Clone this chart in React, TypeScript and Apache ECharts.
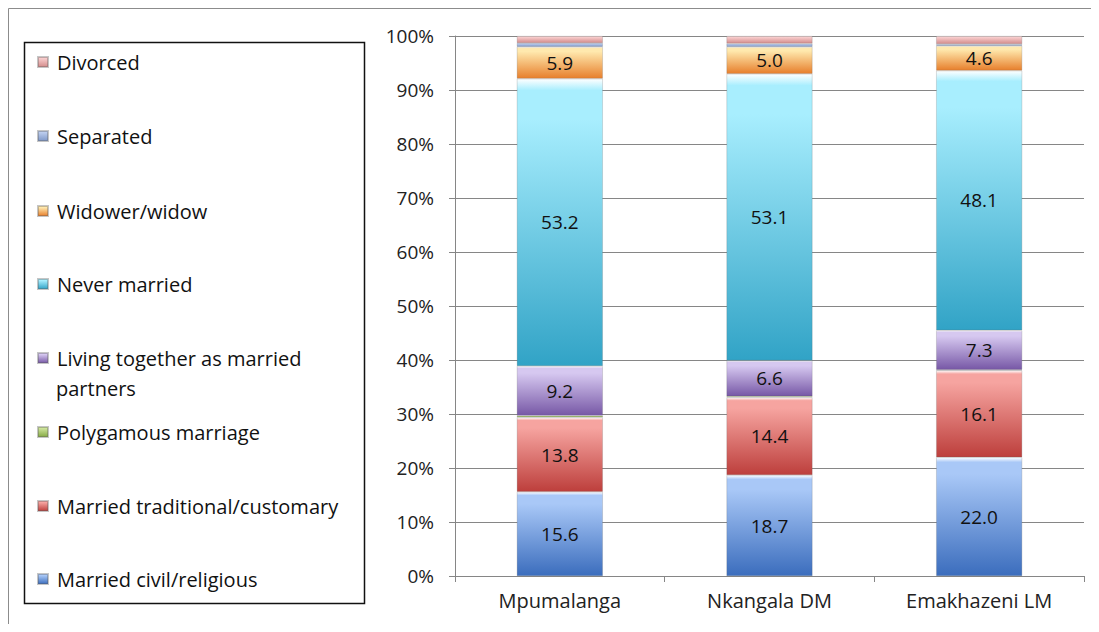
import React, { useEffect, useRef } from "react";
import * as echarts from "echarts";

const categories = ["Mpumalanga", "Nkangala DM", "Emakhazeni LM"];
const marriedCivil = [15.6, 18.7, 22.0];
const marriedTraditional = [13.8, 14.4, 16.1];
const polygamous = [0.3, 0.2, 0.1];
const livingTogether = [9.2, 6.6, 7.3];
const neverMarried = [53.2, 53.1, 48.1];
const widowed = [5.9, 5.0, 4.6];
const separated = [0.7, 0.6, 0.3];
const divorced = [1.3, 1.4, 1.5];
const yTicks = [0, 10, 20, 30, 40, 50, 60, 70, 80, 90, 100];

const FONT = "'Open Sans', sans-serif";

type S = { name: string; legend: string; data: number[]; light: string; dark: string; label: boolean };

const seriesDefs: S[] = [
  { name: "Married civil/religious", legend: "Married civil/religious", data: marriedCivil, light: "#a9c8f7", dark: "#3b6dbd", label: true },
  { name: "Married traditional/customary", legend: "Married traditional/customary", data: marriedTraditional, light: "#f6a4a0", dark: "#bd3f3c", label: true },
  { name: "Polygamous marriage", legend: "Polygamous marriage", data: polygamous, light: "#cde39a", dark: "#86aa45", label: false },
  { name: "Living together as married partners", legend: "Living together as married", data: livingTogether, light: "#d6c8f0", dark: "#7758a6", label: true },
  { name: "Never married", legend: "Never married", data: neverMarried, light: "#a8eefe", dark: "#31a3c6", label: true },
  { name: "Widower/widow", legend: "Widower/widow", data: widowed, light: "#ffe9ae", dark: "#e77f2c", label: true },
  { name: "Separated", legend: "Separated", data: separated, light: "#bccdee", dark: "#7f98c8", label: false },
  { name: "Divorced", legend: "Divorced", data: divorced, light: "#f8cccc", dark: "#d38c8b", label: false },
];

const legendOrder = [
  "Divorced",
  "Separated",
  "Widower/widow",
  "Never married",
  "Living together as married partners",
  "Polygamous marriage",
  "Married traditional/customary",
  "Married civil/religious",
];
const legendCenters = [54, 128, 203, 276, 350, 424, 498, 571];

function grad(light: string, dark: string) {
  return new echarts.graphic.LinearGradient(0, 0, 0, 1, [
    { offset: 0, color: "#ffffff" },
    { offset: 0.04, color: light },
    { offset: 0.14, color: light },
    { offset: 1, color: dark },
  ]);
}

export default function App() {
  const ref = useRef<HTMLDivElement>(null);
  useEffect(() => {
    if (!ref.current) return;
    const chart = echarts.init(ref.current, undefined, { renderer: "svg" });
    const legendNameMap: Record<string, string> = {};
    seriesDefs.forEach((s) => (legendNameMap[s.name] = s.legend));

    const legends = legendOrder.map((name, i) => ({
      show: true,
      left: 24,
      top: legendCenters[i] - 11 - 5,
      orient: "vertical",
      data: [name],
      itemWidth: 10,
      itemHeight: 10,
      icon: "rect",
      selectedMode: false,
      formatter: (n: string) => legendNameMap[n] || n,
      textStyle: {
        fontFamily: FONT,
        fontSize: 20,
        color: "#111",
        padding: [0, 0, 0, 4],
        lineHeight: 22,
      },
    }));

    chart.setOption({
      animation: false,
      backgroundColor: "#ffffff",
      textStyle: { fontFamily: FONT },
      legend: legends,
      grid: { left: 447, right: 15, top: 28, bottom: 48, containLabel: false },
      xAxis: {
        type: "category",
        data: categories,
        axisLine: { lineStyle: { color: "#868686", width: 1 } },
        axisTick: { show: true, length: 6, lineStyle: { color: "#868686" } },
        axisLabel: { fontFamily: FONT, fontSize: 20, color: "#222", margin: 14 },
      },
      yAxis: {
        type: "value",
        min: 0,
        max: 100,
        interval: 10,
        axisLine: { show: true, lineStyle: { color: "#868686", width: 1 } },
        axisTick: { show: true, length: 6, lineStyle: { color: "#868686" } },
        splitLine: { show: true, lineStyle: { color: "#868686", width: 1 } },
        axisLabel: {
          fontFamily: FONT,
          fontSize: 19,
          color: "#222",
          margin: 21,
          formatter: (v: number) => (yTicks.includes(v) ? `${v}%` : ""),
        },
      },
      series: seriesDefs.map((s) => ({
        name: s.name,
        type: "bar",
        stack: "total",
        barWidth: 86,
        data: s.data,
        itemStyle: {
          color: grad(s.light, s.dark),
          borderColor: "rgba(90,90,90,0.35)",
          borderWidth: 0.6,
        },
        label: {
          show: s.label,
          position: "inside",
          fontFamily: FONT,
          fontSize: 19,
          color: "#111",
          formatter: (p: any) => Number(p.value).toFixed(1),
        },
      })),
      graphic: [
        {
          type: "rect",
          shape: { x: 0.5, y: 0.5, width: 1200, height: 700 },
          style: { fill: "none", stroke: "#8c8c8c", lineWidth: 1 },
          silent: true,
          z: -1,
        },
        {
          type: "rect",
          shape: { x: 16.5, y: 34.5, width: 340, height: 561 },
          style: { fill: "none", stroke: "#111", lineWidth: 1.5 },
          silent: true,
        },
        {
          type: "text",
          x: 48,
          y: 380,
          style: {
            text: "partners",
            font: `20px ${FONT}`,
            fill: "#111",
            verticalAlign: "middle",
          },
          silent: true,
        },
      ],
    });
    return () => chart.dispose();
  }, []);
  return <div ref={ref} style={{ width: 1091, height: 616 }} />;
}
